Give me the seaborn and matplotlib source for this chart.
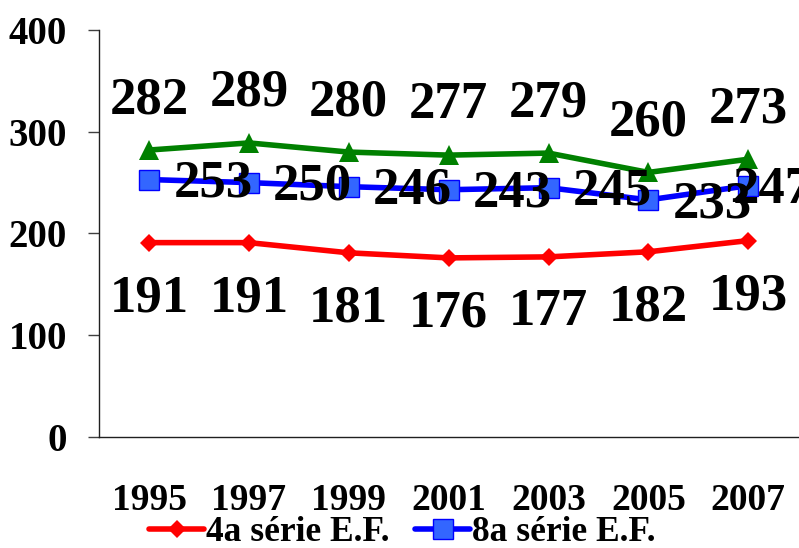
import pandas as pd
import seaborn as sns
import matplotlib.pyplot as plt

# values
anos = ['1995', '1997', '1999', '2001', '2003', '2005', '2007']
serie_4a_ef = [191, 191, 181, 176, 177, 182, 193]
serie_8a_ef = [253, 250, 246, 243, 245, 233, 247]
serie_3a_em = [282, 289, 280, 277, 279, 260, 273]
yticks = [0, 100, 200, 300, 400]

sns.set_style('white')
plt.rcParams['font.family'] = ['Liberation Serif', 'DejaVu Serif']
plt.rcParams['font.weight'] = 'bold'
plt.rcParams['text.color'] = 'black'
plt.rcParams['xtick.color'] = 'black'
plt.rcParams['ytick.color'] = 'black'

data = pd.DataFrame({
    'ano': anos * 3,
    'valor': serie_4a_ef + serie_8a_ef + serie_3a_em,
    'serie': ['4a série E.F.'] * 7 + ['8a série E.F.'] * 7 + ['3a série E.M.'] * 7,
})

fig = plt.figure(figsize=(7.99, 5.48), dpi=100)
ax = fig.add_axes([0.124, 0.2026, 0.875, 0.7427])

styles = {
    '4a série E.F.': dict(color='#FF0000', marker='D', markersize=9, mfc='#FF0000', mec='#FF0000'),
    '8a série E.F.': dict(color='#0000FF', marker='s', markersize=14, mfc='#3366FF', mec='#0000FF', mew=1),
    '3a série E.M.': dict(color='#008000', marker='^', markersize=15, mfc='#008000', mec='#008000'),
}
for nome, st in styles.items():
    sub = data[data['serie'] == nome]
    sns.lineplot(data=sub, x='ano', y='valor', ax=ax, label=nome, linewidth=4,
                 color=st['color'], marker=st['marker'], markersize=st['markersize'],
                 markerfacecolor=st['mfc'], markeredgecolor=st['mec'],
                 markeredgewidth=st.get('mew', 0))

# data labels
lbl = dict(fontsize=38, fontweight='bold', ha='center', va='center',
           textcoords='offset points', color='black')
for i, v in enumerate(serie_4a_ef):
    ax.annotate(str(v), (i, v), xytext=(0, -40), **lbl)
for i, v in enumerate(serie_8a_ef):
    dx = 46 if i < len(serie_8a_ef) - 1 else 17
    ax.annotate(str(v), (i, v), xytext=(dx, -3), **lbl)
for i, v in enumerate(serie_3a_em):
    ax.annotate(str(v), (i, v), xytext=(0, 36), **lbl)

ax.set_xlim(-0.5, 6.5)
ax.set_ylim(0, 400)
ax.set_yticks(yticks)
ax.set_yticklabels([str(t) for t in yticks], fontsize=28, fontweight='bold')
ax.set_xticks(range(len(anos)))
ax.set_xticklabels(anos, fontsize=27, fontweight='bold')
ax.set_xticks([i - 0.5 for i in range(len(anos) + 1)], minor=True)
ax.tick_params(axis='x', which='major', length=0, pad=33)
ax.tick_params(axis='x', which='minor', length=8, width=1, direction='out', color='#404040')
ax.tick_params(axis='y', length=8, width=1, direction='out', pad=15, color='#404040', left=True)
ax.set_xlabel('')
ax.set_ylabel('')
for s in ['top', 'right']:
    ax.spines[s].set_visible(False)
for s in ['left', 'bottom']:
    ax.spines[s].set_color('#202020')
    ax.spines[s].set_linewidth(1)

# legend: two entries per row, third row falls below the figure edge
handles, labels = ax.get_legend_handles_labels()
ordem = [0, 2, 1]
ax.legend([handles[k] for k in ordem], [labels[k] for k in ordem],
          loc='upper left', bbox_to_anchor=(0.187, 0.058), bbox_transform=fig.transFigure,
          ncol=2, frameon=False, handlelength=1.55, handletextpad=0.05,
          columnspacing=0.3, borderpad=0, borderaxespad=0,
          prop={'weight': 'bold', 'size': 25.5})

fig.savefig('out.png', dpi=100)
